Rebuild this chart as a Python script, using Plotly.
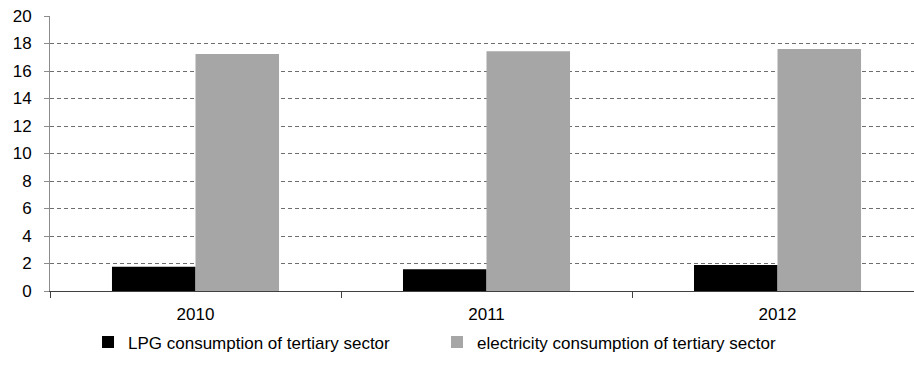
import plotly.graph_objects as go

years = ["2010", "2011", "2012"]
lpg = [1.77, 1.58, 1.89]
electricity = [17.24, 17.43, 17.6]
y_ticks = [0, 2, 4, 6, 8, 10, 12, 14, 16, 18, 20]

font = dict(family="Liberation Sans, Arial, sans-serif", size=17, color="#000000")

fig = go.Figure()
fig.add_trace(go.Bar(x=years, y=lpg, name="LPG consumption of tertiary sector",
                     marker=dict(color="#000000", line=dict(width=0))))
fig.add_trace(go.Bar(x=years, y=electricity, name="electricity consumption of tertiary sector",
                     marker=dict(color="#a6a6a6", line=dict(width=0))))

fig.update_layout(
    width=914, height=373,
    margin=dict(l=50, r=0, t=16, b=82),
    paper_bgcolor="white", plot_bgcolor="white",
    font=font,
    barmode="group", bargap=0.426, bargroupgap=0,
    showlegend=True,
    legend=dict(orientation="h", x=0.044, y=-0.122, xanchor="left", yanchor="top",
                entrywidth=304, font=font, bgcolor="rgba(0,0,0,0)"),
    xaxis=dict(type="category", range=[-0.5, 2.469], showgrid=False,
               showline=True, linecolor="#404040", linewidth=1,
               ticks="outside", tickson="boundaries", ticklen=6, tickcolor="#404040",
               ticklabelstandoff=8, tickfont=font),
    yaxis=dict(range=[0, 20], tickvals=y_ticks, showgrid=True, gridcolor="#6e6e6e",
               griddash="4px,3px", gridwidth=1, zeroline=False,
               showline=True, linecolor="#8c8c8c", linewidth=1,
               ticks="outside", ticklen=5, tickcolor="#8c8c8c",
               ticklabelstandoff=9, tickfont=font),
)

fig.write_html("out.html")
